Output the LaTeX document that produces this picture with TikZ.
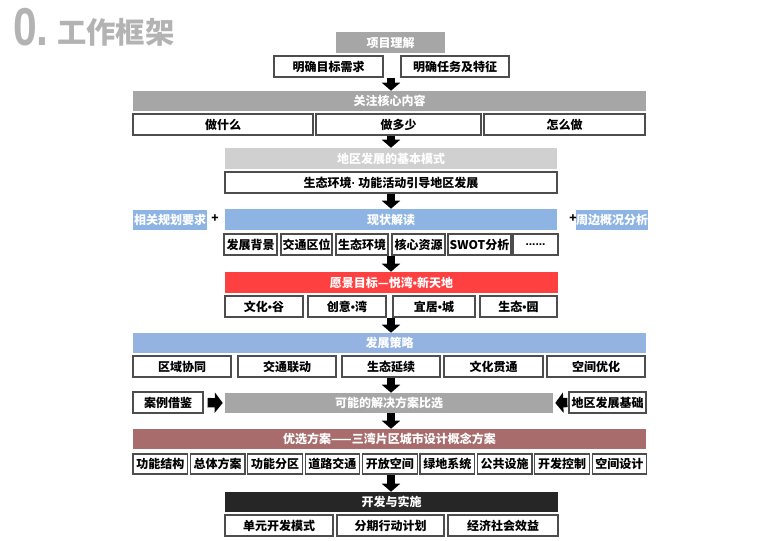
\documentclass[tikz,border=0pt]{standalone}
\usepackage{fontspec}
\setmainfont{Noto Sans CJK SC}
\newfontfamily\latinfont{Liberation Sans}
\usetikzlibrary{arrows.meta, positioning}
\definecolor{titlegray}{HTML}{B3B3B3}
\definecolor{bargray}{HTML}{A6A6A6}
\definecolor{lightbar}{HTML}{D0D0D0}
\definecolor{statusblue}{HTML}{8DB4E2}
\definecolor{strategyblue}{HTML}{95B3E0}
\definecolor{visionred}{HTML}{FF4040}
\definecolor{planbrown}{HTML}{A86C6C}
\definecolor{implblack}{HTML}{262626}
\definecolor{cellline}{HTML}{4D4D4D}

\newcommand{\boxfont}{\fontsize{9pt}{11pt}\selectfont\bfseries}
\newcommand{\dotsep}{{\latinfont\bfseries •}}
% box from its pixel edges: [style]{name}{x1}{x2}{y1}{y2}{text}
\newcommand{\pxbox}[7][cell]{\node[#1, minimum width={(#4-#3)*0.75pt},
  minimum height={(#6-#5)*0.75pt}] (#2) at ({(#3+#4)/2},{(#5+#6)/2}) {#7};}

\tikzset{
  cell/.style={draw=cellline, line width=0.9pt, fill=white, inner sep=0pt,
    font=\boxfont, text=black},
  bar/.style={inner sep=0pt, font=\boxfont, text=white},
  downarrow/.style={line width=6pt, -{Triangle[width=13.5pt, length=6pt]}},
  sidearrow/.style={line width=7pt, -{Triangle[width=15pt, length=6pt]}},
}

\begin{document}
\begin{tikzpicture}[x=0.75pt, y=-0.75pt]
  \useasboundingbox (0,0) rectangle (760,541);

  % Title
  \node[anchor=base west, inner sep=0pt, text=titlegray,
        font=\latinfont\fontsize{40pt}{40pt}\selectfont\bfseries, xscale=0.8]
    (titlenum) at (13,46) {0.};
  \node[anchor=base west, inner sep=0pt, text=titlegray,
        font=\fontsize{22pt}{22pt}\selectfont\bfseries]
    (titletxt) at (57,44) {工作框架};

  \coordinate (spine) at (391,0);

  % === Project understanding ===
  \pxbox[bar, fill=bargray]{proj}{336}{445}{32}{53}{项目理解}
  \pxbox{need}{274}{383}{56}{77}{明确目标需求}
  \pxbox{task}{401}{509}{56}{77}{明确任务及特征}

  % === Core content ===
  \pxbox[bar, fill=bargray]{core}{133}{646}{91}{111}{关注核心内容}
  \pxbox{what}{133}{313}{114}{135}{做什么}
  \pxbox{howmuch}{316}{481}{114}{135}{做多少}
  \pxbox{how}{484}{645}{114}{135}{怎么做}

  % === Basic mode ===
  \pxbox[bar, fill=lightbar]{mode}{225}{557}{148}{169}{地区发展的基本模式}
  \pxbox{modetext}{225}{557}{172}{193}{生态环境{\latinfont\bfseries ·} 功能活动引导地区发展}

  % === Status ===
  \pxbox[bar, fill=statusblue]{status}{225}{557}{209}{230}{现状解读}
  \pxbox[bar, fill=statusblue]{planreq}{133}{207}{210}{230}{相关规划要求}
  \pxbox[bar, fill=statusblue]{around}{578}{646}{210}{230}{周边概况分析}
  \node[font=\boxfont] (plusl) at (215,219) {+};
  \node[font=\boxfont] (plusr) at (573,219) {+};
  \pxbox{bg}{224}{277}{234}{255}{发展背景}
  \pxbox{traffic}{281}{332}{234}{255}{交通区位}
  \pxbox{eco}{336}{388}{234}{255}{生态环境}
  \pxbox{res}{392}{445}{234}{255}{核心资源}
  \pxbox{swot}{448}{511}{234}{255}{SWOT分析}
  \pxbox{etc}{513}{558}{234}{255}{\latinfont\bfseries ......}

  % === Vision ===
  \pxbox[bar, fill=visionred]{vision}{225}{558}{272}{293}{愿景目标—悦湾\dotsep 新天地}
  \pxbox{valley}{225}{303}{296}{317}{文化\dotsep 谷}
  \pxbox{bay}{308}{386}{296}{317}{创意\dotsep 湾}
  \pxbox{city}{393}{475}{296}{317}{宜居\dotsep 城}
  \pxbox{park}{480}{557}{296}{317}{生态\dotsep 园}

  % === Strategy ===
  \pxbox[bar, fill=strategyblue]{strategy}{133}{646}{333}{353}{发展策略}
  \pxbox{region}{133}{231}{356}{377}{区域协同}
  \pxbox{link}{238}{336}{356}{377}{交通联动}
  \pxbox{ecocont}{342}{440}{356}{377}{生态延续}
  \pxbox{culture}{444}{543}{356}{377}{文化贯通}
  \pxbox{space}{547}{645}{356}{377}{空间优化}

  % === Comparison ===
  \pxbox{case}{133}{203}{392}{413}{案例借鉴}
  \pxbox[bar, fill=bargray]{compare}{225}{553}{393}{413}{可能的解决方案比选}
  \pxbox{base}{569}{646}{392}{413}{地区发展基础}
  \draw[sidearrow, shorten <=3pt, shorten >=1.5pt] (case.east) -- (compare.west);
  \draw[sidearrow, shorten <=0.75pt, shorten >=1.5pt] (base.west) -- (compare.east);

  % === Preferred plan ===
  \pxbox[bar, fill=planbrown]{plan}{133}{646}{429}{449}{优选方案——三湾片区城市设计概念方案}
  \foreach \t [count=\i from 0] in {功能结构,总体方案,功能分区,道路交通,开放空间,
      绿地系统,公共设施,开发控制,空间设计} {
    \pgfmathsetmacro{\xa}{133+57.4*\i}
    \pgfmathsetmacro{\xb}{\xa+54.5}
    \pxbox{item\i}{\xa}{\xb}{454}{474}{\t}
  }

  % === Implementation ===
  \pxbox[bar, fill=implblack]{impl}{225}{558}{492}{512}{开发与实施}
  \pxbox{unit}{225}{333}{515}{536}{单元开发模式}
  \pxbox{phase}{337}{444}{515}{536}{分期行动计划}
  \pxbox{benefit}{448}{558}{515}{536}{经济社会效益}

  % Flow arrows
  \draw[downarrow] (spine |- need.south) -- (spine |- core.north);
  \draw[downarrow] (spine |- what.south) -- (spine |- mode.north);
  \draw[downarrow] (spine |- modetext.south) -- (spine |- status.north);
  \draw[downarrow] (spine |- bg.south) -- (spine |- vision.north);
  \draw[downarrow] (spine |- valley.south) -- (spine |- strategy.north);
  \draw[downarrow] (spine |- region.south) -- (spine |- compare.north);
  \draw[downarrow] (spine |- compare.south) -- (spine |- plan.north);
  \draw[downarrow] (spine |- item0.south) -- (spine |- impl.north);
\end{tikzpicture}
\end{document}
